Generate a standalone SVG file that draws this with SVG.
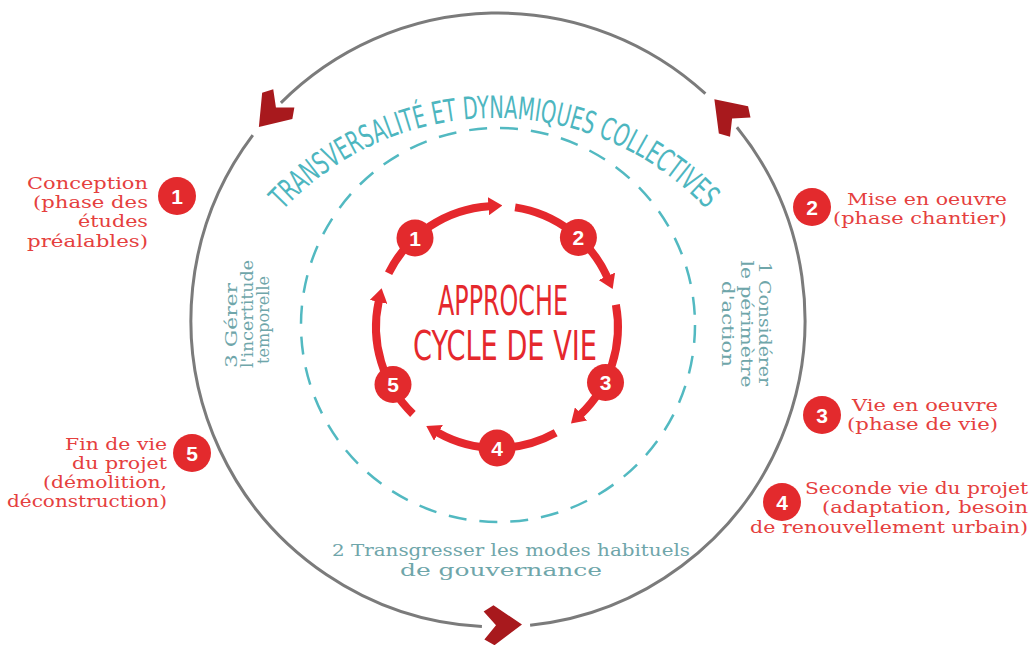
<svg xmlns="http://www.w3.org/2000/svg" width="1035" height="645" viewBox="0 0 1035 645">
<defs>
<style>
.lbl{font-family:'DejaVu Serif','Liberation Serif',serif;font-size:17px;fill:#e5403e}
.tl{font-family:'DejaVu Serif','Liberation Serif',serif;font-size:16px;fill:#6fa6aa}
.bd{fill:#e32a2d}
.num{font-family:'Liberation Sans',Arial,sans-serif;font-weight:bold;font-size:21px;fill:#fff;text-anchor:middle}
.chev{fill:#a8191d}
.ring{fill:none;stroke:#7b7b7b;stroke-width:3}
.cyc{fill:none;stroke:#e5282d;stroke-width:8}
.big{font-family:'Liberation Sans Narrow','DejaVu Sans Condensed',sans-serif;fill:#e5282d}
</style>
<marker id="ah" markerUnits="userSpaceOnUse" markerWidth="14" markerHeight="18" viewBox="0 0 14 18" refX="1" refY="9" orient="auto"><path d="M0,0 L14,9 L0,18 Z" fill="#e5282d"/></marker>
<path id="chevShape" d="M20,0 L-8,-20 L-18,-14 L-6,0 L-18,14 L-8,20 Z"/>
<path id="titleArc" d="M282.9,210.2 A290,290 0 0 1 707.1,210.2"/>
</defs>
<rect width="1035" height="645" fill="#fff"/>

<g id="outer-cycle">
<path class="ring" d="M280.9,102.9 A307,307 0 0 1 705.4,93.7"/>
<path class="ring" d="M736.9,127.2 A307,307 0 0 1 530.1,625.3"/>
<path class="ring" d="M481.9,626.6 A307,307 0 0 1 252.8,135.2"/>
<use href="#chevShape" class="chev" transform="translate(272,112) rotate(131)"/>
<use href="#chevShape" class="chev" transform="translate(728,114) rotate(-133)"/>
<use href="#chevShape" class="chev" transform="translate(502,625) rotate(-1.5)"/>
</g>

<g id="dashed-ring">
<circle cx="498" cy="325" r="197" fill="none" stroke="#52b9c1" stroke-width="2.5" stroke-dasharray="18 13"/>
</g>

<g id="title">
<text font-family="'Liberation Sans Narrow','DejaVu Sans Condensed',sans-serif" font-size="31" fill="#4db6bf"><textPath href="#titleArc" textLength="474" lengthAdjust="spacingAndGlyphs">TRANSVERSALITÉ ET DYNAMIQUES COLLECTIVES</textPath></text>
</g>

<g id="connectors">
<path class="cyc" marker-end="url(#ah)" d="M388.6,273.2 A121,121 0 0 1 489.4,206.2"/>
<path class="cyc" marker-end="url(#ah)" d="M515.1,207.4 A121,121 0 0 1 607.3,277.2"/>
<path class="cyc" marker-end="url(#ah)" d="M615.9,304.7 A121,121 0 0 1 580.4,414.6"/>
<path class="cyc" marker-end="url(#ah)" d="M555.7,432.8 A121,121 0 0 1 437.6,432.4"/>
<path class="cyc" marker-end="url(#ah)" d="M412.9,414.0 A121,121 0 0 1 378.8,301.0"/>
</g>

<g id="cycle-node-1"><circle class="bd" cx="415" cy="238" r="18.5"/><text class="num" x="415" y="245.5">1</text></g>
<g id="cycle-node-2"><circle class="bd" cx="578.4" cy="237.5" r="18.5"/><text class="num" x="578.4" y="245">2</text></g>
<g id="cycle-node-3"><circle class="bd" cx="605.5" cy="382.5" r="18.5"/><text class="num" x="605.5" y="390">3</text></g>
<g id="cycle-node-4"><circle class="bd" cx="497" cy="448" r="18.5"/><text class="num" x="497" y="455.5">4</text></g>
<g id="cycle-node-5"><circle class="bd" cx="393" cy="384.5" r="18.5"/><text class="num" x="393" y="392">5</text></g>

<g id="center-title">
<text class="big" x="438" y="315" font-size="41" textLength="130" lengthAdjust="spacingAndGlyphs">APPROCHE</text>
<text class="big" x="413" y="360" font-size="41" textLength="184" lengthAdjust="spacingAndGlyphs">CYCLE DE VIE</text>
</g>

<g id="stage-1">
<circle class="bd" cx="177" cy="196" r="19"/><text class="num" x="177" y="203.5">1</text>
<text class="lbl" x="148" y="189" text-anchor="end" textLength="121" lengthAdjust="spacingAndGlyphs">Conception</text>
<text class="lbl" x="148" y="208" text-anchor="end" textLength="115" lengthAdjust="spacingAndGlyphs">(phase des</text>
<text class="lbl" x="148" y="227" text-anchor="end" textLength="70" lengthAdjust="spacingAndGlyphs">études</text>
<text class="lbl" x="148" y="247" text-anchor="end" textLength="121" lengthAdjust="spacingAndGlyphs">préalables)</text>
</g>

<g id="stage-2">
<circle class="bd" cx="812" cy="207" r="19"/><text class="num" x="812" y="214.5">2</text>
<text class="lbl" x="1007" y="205" text-anchor="end" textLength="160" lengthAdjust="spacingAndGlyphs">Mise en oeuvre</text>
<text class="lbl" x="1007" y="224" text-anchor="end" textLength="174" lengthAdjust="spacingAndGlyphs">(phase chantier)</text>
</g>

<g id="stage-3">
<circle class="bd" cx="822" cy="415" r="19"/><text class="num" x="822" y="422.5">3</text>
<text class="lbl" x="998" y="411" text-anchor="end" textLength="146" lengthAdjust="spacingAndGlyphs">Vie en oeuvre</text>
<text class="lbl" x="998" y="430" text-anchor="end" textLength="151" lengthAdjust="spacingAndGlyphs">(phase de vie)</text>
</g>

<g id="stage-4">
<circle class="bd" cx="782" cy="502" r="19"/><text class="num" x="782" y="509.5">4</text>
<text class="lbl" x="1028" y="494" text-anchor="end" textLength="223" lengthAdjust="spacingAndGlyphs">Seconde vie du projet</text>
<text class="lbl" x="1028" y="513" text-anchor="end" textLength="206" lengthAdjust="spacingAndGlyphs">(adaptation, besoin</text>
<text class="lbl" x="1028" y="533" text-anchor="end" textLength="278" lengthAdjust="spacingAndGlyphs">de renouvellement urbain)</text>
</g>

<g id="stage-5">
<circle class="bd" cx="192" cy="453" r="19"/><text class="num" x="192" y="460.5">5</text>
<text class="lbl" x="167" y="450" text-anchor="end" textLength="102" lengthAdjust="spacingAndGlyphs">Fin de vie</text>
<text class="lbl" x="167" y="469" text-anchor="end" textLength="95" lengthAdjust="spacingAndGlyphs">du projet</text>
<text class="lbl" x="167" y="488" text-anchor="end" textLength="124" lengthAdjust="spacingAndGlyphs">(démolition,</text>
<text class="lbl" x="167" y="507" text-anchor="end" textLength="160" lengthAdjust="spacingAndGlyphs">déconstruction)</text>
</g>

<g id="axis-1">
<g transform="translate(759,324) rotate(90)">
<text class="tl" x="0" y="0" text-anchor="middle" textLength="124" lengthAdjust="spacingAndGlyphs">1 Considérer</text>
<text class="tl" x="0" y="18.5" text-anchor="middle" textLength="127" lengthAdjust="spacingAndGlyphs">le périmètre</text>
<text class="tl" x="0" y="37" text-anchor="middle" textLength="86" lengthAdjust="spacingAndGlyphs">d'action</text>
</g>
</g>

<g id="axis-3">
<g transform="translate(237,368) rotate(-90)">
<text class="tl" x="0" y="0" textLength="85" lengthAdjust="spacingAndGlyphs">3 Gérer</text>
<text class="tl" x="0" y="16" textLength="108" lengthAdjust="spacingAndGlyphs">l'incertitude</text>
<text class="tl" x="4" y="32" textLength="88" lengthAdjust="spacingAndGlyphs">temporelle</text>
</g>
</g>

<g id="axis-2">
<text class="tl" x="332" y="556" font-size="18" textLength="358" lengthAdjust="spacingAndGlyphs">2 Transgresser les modes habituels</text>
<text class="tl" x="400" y="576" font-size="18" textLength="202" lengthAdjust="spacingAndGlyphs">de gouvernance</text>
</g>
</svg>
